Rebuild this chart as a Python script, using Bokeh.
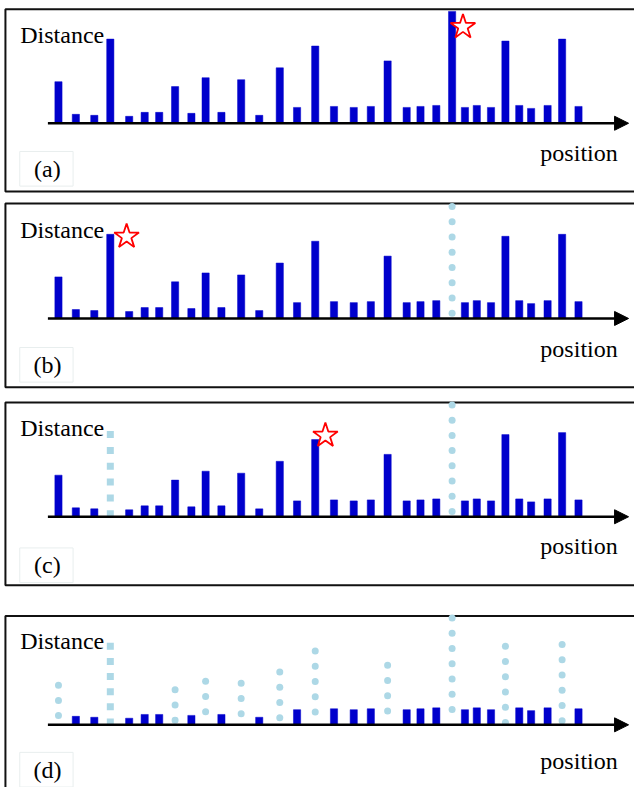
from bokeh.plotting import figure
from bokeh.models import Range1d, Arrow, NormalHead, ColumnDataSource
from bokeh.core.properties import value
from bokeh.embed import file_html
from bokeh.resources import INLINE

# ---------------- data ----------------
positions = [58.7, 76.3, 95.0, 111.2, 130.3, 146.0, 160.7, 176.8, 193.3, 207.7,
             223.7, 243.7, 262.0, 282.8, 300.3, 318.7, 337.7, 357.7, 375.0, 392.0,
             411.3, 425.3, 441.3, 457.3, 470.3, 482.3, 496.7, 511.3, 525.3, 537.3,
             554.0, 568.7, 585.3]
distances = [42, 9, 8, 85, 7, 11, 11, 37, 10, 46,
             11, 44, 8, 56, 16, 78, 17, 16, 17, 63,
             16, 17, 18, 113, 16, 18, 16, 83, 18, 15,
             18, 85, 17]
panel_labels = ["(a)", "(b)", "(c)", "(d)"]
star_bar = [23, 3, 15, None]
circle_bars = [[], [23], [23], [0, 7, 9, 11, 13, 15, 19, 23, 27, 31]]
square_bars = [[], [], [3], [3]]
y_label = "Distance"
x_label = "position"

# ---------------- layout / style ----------------
W, H = 634, 787
BAR_COLOR = "#0000CC"
DOT_COLOR = "#ADD8E6"
FONT = value("Liberation Serif")
FS = "24px"

panels = [
    dict(axis=124.0, scale=1.0, frame=(8.8, 193.0), dist=35.0, pos=154.0, lab=170.0, star=(11.0, -15.7)),
    dict(axis=321.2, scale=1.0, frame=(205.0, 390.7), dist=231.7, pos=352.3, lab=368.0, star=(16.5, -2.3)),
    dict(axis=521.5, scale=1.0, frame=(406.0, 590.7), dist=431.7, pos=551.0, lab=570.5, star=(10.3, 4.0)),
    dict(axis=731.7, scale=0.955, frame=(621.7, 830.0), dist=646.7, pos=768.3, lab=777.0, star=(0, 0)),
]

p = figure(width=W, height=H, x_range=Range1d(0, 642), y_range=Range1d(795, 0),
           output_backend="svg", toolbar_location=None, min_border=0,
           x_axis_location=None, y_axis_location=None, outline_line_color=None)
p.xgrid.grid_line_color = None
p.ygrid.grid_line_color = None
p.background_fill_color = "white"
p.border_fill_color = "white"

for k, cfg in enumerate(panels):
    name = "panel%d" % k
    A, s = cfg["axis"], cfg["scale"]
    p.extra_y_ranges[name] = Range1d(-(795 - A) / s, A / s)

    # frame
    f0, f1 = cfg["frame"]
    p.quad(left=[5], right=[700], top=[f0], bottom=[f1], fill_alpha=0,
           line_color="#111111", line_width=2)
    # label box
    p.quad(left=[19.5], right=[73.5], top=[cfg["lab"] - 17.5], bottom=[cfg["lab"] + 17.5],
           fill_alpha=0, line_color="#e8eeee", line_width=1)

    removed = set(circle_bars[k]) | set(square_bars[k])
    keep = [i for i in range(len(positions)) if i not in removed]
    src = ColumnDataSource(dict(x=[positions[i] for i in keep],
                                top=[distances[i] for i in keep]))
    p.vbar(x="x", top="top", bottom=0, width=7.3, source=src, y_range_name=name,
           fill_color=BAR_COLOR, line_color=BAR_COLOR, line_width=0.5)

    # dotted circles for removed bars
    cx, cy = [], []
    for i in circle_bars[k]:
        y = distances[i]
        while y >= 2:
            cx.append(positions[i]); cy.append(y)
            y -= 15.4 / s
    if cx:
        p.scatter(cx, cy, marker="circle", size=7, fill_color=DOT_COLOR,
                  line_color=None, y_range_name=name)
    sx, sy = [], []
    for i in square_bars[k]:
        y = distances[i] - 2
        while y >= 1:
            sx.append(positions[i]); sy.append(y)
            y -= 16
    if sx:
        p.scatter(sx, sy, marker="square", size=7, fill_color=DOT_COLOR,
                  line_color=None, y_range_name=name)

    # axis arrow
    p.add_layout(Arrow(end=NormalHead(size=14, fill_color="black", line_color="black"),
                       x_start=48, y_start=0, x_end=636, y_end=0,
                       line_width=2.5, line_color="black", y_range_name=name))

    # star
    if star_bar[k] is not None:
        i = star_bar[k]
        dx, dy = cfg["star"]
        p.scatter([positions[i] + dx], [distances[i] + dy], marker="star", size=26,
                  fill_color="white", line_color="red", line_width=1.8,
                  y_range_name=name)

    # texts
    p.text(x=[20], y=[cfg["dist"]], text=[y_label], text_font=FONT, text_font_size=FS,
           text_baseline="alphabetic", text_align="left", text_color="black")
    p.text(x=[625], y=[cfg["pos"]], text=[x_label], text_font=FONT, text_font_size=FS,
           text_baseline="alphabetic", text_align="right", text_color="black")
    p.text(x=[47.5], y=[cfg["lab"]], text=[panel_labels[k]], text_font=FONT,
           text_font_size=FS, text_baseline="middle", text_align="center",
           text_color="black")

open("out.html", "w").write(file_html(p, INLINE))
